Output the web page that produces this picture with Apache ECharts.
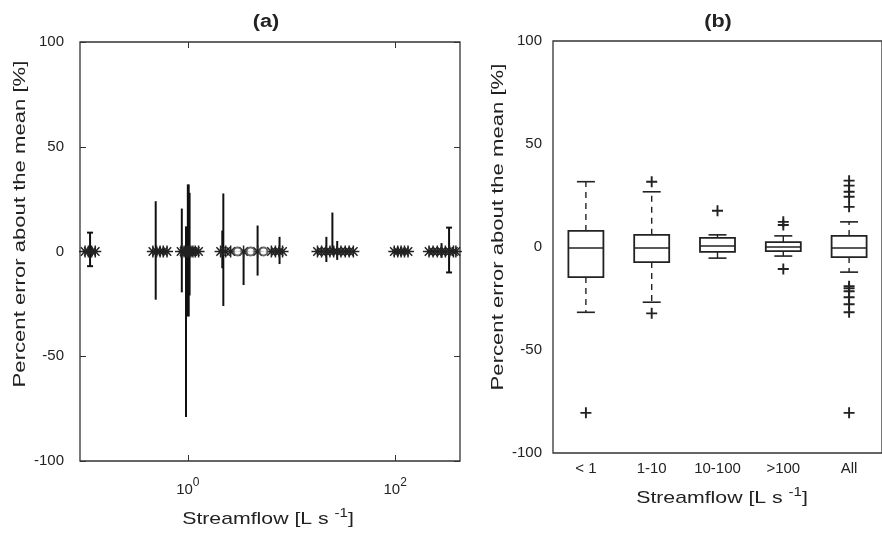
<!DOCTYPE html>
<html><head><meta charset="utf-8">
<script src="https://cdn.jsdelivr.net/npm/echarts@6/dist/echarts.min.js"></script>
<style>html,body{margin:0;padding:0;background:#fff}#c{width:882px;height:539px}</style>
</head><body><div id="c"></div>
<script>
// ---------- Panel (a): per-site mean (0 %) vs streamflow, with error ranges ----------
const starFlows = [0.102, 0.11, 0.118, 0.128,
  0.46, 0.5, 0.54, 0.58, 0.63,
  0.86, 0.92, 0.97, 1.0, 1.03, 1.07, 1.12, 1.18, 1.27,
  2.07, 2.32, 2.59, 3.45, 4.71,
  6.4, 7.0, 7.6, 8.2,
  17.8, 19.5, 21.5, 23.5, 25.5, 27.5, 30, 33, 36, 39.5,
  98, 106, 114, 123, 133,
  212, 232, 255, 280, 305, 335, 365, 385];
const starError = starFlows.map(() => 0);
const circleFlows = [3.02, 4.03, 5.37];
const circleError = [0, 0, 0];
const barFlows = [0.114, 0.49, 0.875, 0.96, 1.0, 1.02, 1.04, 2.15, 2.2, 3.45, 4.71, 7.67, 21.7, 24.8, 27.6, 280, 331];
const barLow   = [-7, -23, -19.5, -79, -31, -31, -21, -8, -26, -16, -11.5, -6, -5, 0, -4, -3, -10];
const barHigh  = [9, 24, 20.5, 12, 32, 32, 28, 10, 27.7, 0, 12.4, 7, 7, 18.6, 5, 4, 11.4];
const xTickExponents = [0, 2];          // tick labels 10^0 and 10^2
const xRangeFlows = [0.0912, 422];
const yTicks = [-100, -50, 0, 50, 100];

// ---------- Panel (b): box plots per streamflow class ----------
const classLabels = ['< 1', '1-10', '10-100', '>100', 'All'];
const whiskerLow  = [-31.7, -26.8, -5.4, -4.4, -12.2];
const quart1      = [-14.6, -7.3, -2.4, -2.0, -4.9];
const medianVal   = [-0.5, -0.5, 0.5, 0, -0.5];
const quart3      = [7.8, 5.9, 4.4, 2.4, 5.4];
const whiskerHigh = [31.7, 26.8, 5.9, 5.4, 12.2];
const outlierClass = ['< 1', '1-10', '1-10', '10-100', '>100', '>100', '>100',
  'All', 'All', 'All', 'All', 'All', 'All', 'All', 'All', 'All', 'All', 'All', 'All'];
const outlierValue = [-80.5, 31.7, -32.2, 17.6, 12.2, 10.7, -10.7,
  32.2, 29.8, 26.8, 24.4, 19.5, -19, -20, -21.5, -24.4, -27.8, -31.7, -80.5];

const FONT = '"Liberation Sans", Arial, sans-serif';
const INK = '#222';
const log10 = Math.log10;

const chart = echarts.init(document.getElementById('c'), null, {renderer: 'canvas'});

const starPath = 'path://M0,5L10,5M5,0L5,10M1.5,1.5L8.5,8.5M8.5,1.5L1.5,8.5';
const plusPath = 'path://M0,5L10,5M5,0L5,10';

const tickStyle = {inside: true, length: 6, lineStyle: {color: '#333', width: 1}};
const noLine = {show: false, onZero: false};

const option = {
  animation: false,
  backgroundColor: '#fff',
  grid: [
    {left: 80, top: 42, width: 380, height: 419, show: true, borderColor: '#333', borderWidth: 1.3, backgroundColor: '#fff'},
    {left: 553, top: 41, width: 338, height: 412, show: true, borderColor: '#333', borderWidth: 1.3, backgroundColor: '#fff'}
  ],
  xAxis: [
    {gridIndex: 0, type: 'value', min: log10(xRangeFlows[0]), max: log10(xRangeFlows[1]),
     axisLine: noLine, splitLine: {show: false},
     axisTick: Object.assign({customValues: xTickExponents}, tickStyle),
     axisLabel: {customValues: xTickExponents, margin: 16, color: INK,
       formatter: v => '{b|10}{s|' + v + '}',
       rich: {b: {fontSize: 15, fontFamily: FONT, color: INK, lineHeight: 20, verticalAlign: 'bottom'},
              s: {fontSize: 12, fontFamily: FONT, color: INK, lineHeight: 20, verticalAlign: 'top'}}}},
    {gridIndex: 0, type: 'value', position: 'top', min: log10(xRangeFlows[0]), max: log10(xRangeFlows[1]),
     axisLine: noLine, splitLine: {show: false}, axisLabel: {show: false},
     axisTick: Object.assign({customValues: xTickExponents}, tickStyle)},
    {gridIndex: 1, type: 'category', data: classLabels,
     axisLine: noLine, splitLine: {show: false},
     axisTick: Object.assign({alignWithLabel: true}, tickStyle),
     axisLabel: {margin: 8, fontSize: 15, fontFamily: FONT, color: INK}},
    {gridIndex: 1, type: 'category', data: classLabels, position: 'top',
     axisLine: noLine, splitLine: {show: false}, axisLabel: {show: false},
     axisTick: Object.assign({alignWithLabel: true}, tickStyle)}
  ],
  yAxis: [
    {gridIndex: 0, type: 'value', min: -100, max: 100, interval: 50,
     axisLine: noLine, splitLine: {show: false}, axisTick: tickStyle,
     axisLabel: {margin: 16, fontSize: 15, fontFamily: FONT, color: INK}},
    {gridIndex: 0, type: 'value', position: 'right', min: -100, max: 100, interval: 50,
     axisLine: noLine, splitLine: {show: false}, axisTick: tickStyle, axisLabel: {show: false}},
    {gridIndex: 1, type: 'value', min: -100, max: 100, interval: 50,
     axisLine: noLine, splitLine: {show: false}, axisTick: tickStyle,
     axisLabel: {margin: 11, fontSize: 15, fontFamily: FONT, color: INK}}
  ],
  series: [
    {
      type: 'custom', xAxisIndex: 0, yAxisIndex: 0, clip: true,
      data: barFlows.map((f, i) => [log10(f), barLow[i], barHigh[i]]),
      encode: {x: 0, y: [1, 2]},
      renderItem: function (params, api) {
        const x = api.value(0);
        const pl = api.coord([x, api.value(1)]);
        const ph = api.coord([x, api.value(2)]);
        const st = {stroke: '#111', lineWidth: 2};
        const ch = [{type: 'line', shape: {x1: pl[0], y1: pl[1], x2: ph[0], y2: ph[1]}, style: st}];
        const capped = params.dataIndex === 0 || params.dataIndex === barFlows.length - 1;
        if (capped) {
          ch.push({type: 'line', shape: {x1: pl[0] - 3, y1: pl[1], x2: pl[0] + 3, y2: pl[1]}, style: st});
          ch.push({type: 'line', shape: {x1: ph[0] - 3, y1: ph[1], x2: ph[0] + 3, y2: ph[1]}, style: st});
        }
        return {type: 'group', children: ch};
      }
    },
    {
      type: 'scatter', xAxisIndex: 0, yAxisIndex: 0,
      data: starFlows.map((f, i) => [log10(f), starError[i]]),
      symbol: starPath, symbolSize: 12,
      itemStyle: {color: 'transparent', borderColor: '#222', borderWidth: 1.5, opacity: 1}
    },
    {
      type: 'scatter', xAxisIndex: 0, yAxisIndex: 0,
      data: circleFlows.map((f, i) => [log10(f), circleError[i]]),
      symbol: 'emptyCircle', symbolSize: 8,
      itemStyle: {color: '#444', borderColor: '#444', borderWidth: 1.3}
    },
    {
      type: 'custom', xAxisIndex: 2, yAxisIndex: 2,
      data: classLabels.map((c, i) => [i, whiskerLow[i], quart1[i], medianVal[i], quart3[i], whiskerHigh[i]]),
      encode: {x: 0, y: [1, 2, 3, 4, 5]},
      renderItem: function (params, api) {
        const i = api.value(0);
        const cx = api.coord([i, 0])[0];
        const y = k => api.coord([i, api.value(k)])[1];
        const hw = 17.5, cw = 9;
        const yl = y(1), y1 = y(2), ym = y(3), y3 = y(4), yh = y(5);
        const st = {stroke: INK, lineWidth: 1.6, fill: null};
        const dash = {stroke: INK, lineWidth: 1.4, lineDash: [6, 5], fill: null};
        return {type: 'group', children: [
          {type: 'line', shape: {x1: cx, y1: y3, x2: cx, y2: yh}, style: dash},
          {type: 'line', shape: {x1: cx, y1: y1, x2: cx, y2: yl}, style: dash},
          {type: 'line', shape: {x1: cx - cw, y1: yh, x2: cx + cw, y2: yh}, style: st},
          {type: 'line', shape: {x1: cx - cw, y1: yl, x2: cx + cw, y2: yl}, style: st},
          {type: 'rect', shape: {x: cx - hw, y: y3, width: 2 * hw, height: y1 - y3}, style: {stroke: INK, lineWidth: 1.8, fill: null}},
          {type: 'line', shape: {x1: cx - hw, y1: ym, x2: cx + hw, y2: ym}, style: st}
        ]};
      }
    },
    {
      type: 'scatter', xAxisIndex: 2, yAxisIndex: 2,
      data: outlierClass.map((c, i) => [c, outlierValue[i]]),
      symbol: plusPath, symbolSize: 11,
      itemStyle: {color: 'transparent', borderColor: '#222', borderWidth: 1.9, opacity: 1}
    }
  ],
  graphic: [
    {type: 'text', x: 266, y: 22, style: {text: '(a)', font: 'bold 18px ' + FONT, fill: INK, textAlign: 'center', textVerticalAlign: 'middle'}, scaleX: 1.2},
    {type: 'text', x: 718, y: 22, style: {text: '(b)', font: 'bold 18px ' + FONT, fill: INK, textAlign: 'center', textVerticalAlign: 'middle'}, scaleX: 1.2},
    {type: 'text', x: 20, y: 224, rotation: Math.PI / 2, scaleX: 1.3,
     style: {text: 'Percent error about the mean [%]', font: '17px ' + FONT, fill: INK, textAlign: 'center', textVerticalAlign: 'middle'}},
    {type: 'text', x: 498, y: 227, rotation: Math.PI / 2, scaleX: 1.3,
     style: {text: 'Percent error about the mean [%]', font: '17px ' + FONT, fill: INK, textAlign: 'center', textVerticalAlign: 'middle'}},
    {type: 'text', x: 268, y: 518, scaleX: 1.25,
     style: {text: '{b|Streamflow [L s }{s|-1}{b|]}', fill: INK, textAlign: 'center', textVerticalAlign: 'middle',
       rich: {b: {fontSize: 17, fontFamily: FONT, fill: INK, lineHeight: 20, verticalAlign: 'bottom'},
              s: {fontSize: 12, fontFamily: FONT, fill: INK, lineHeight: 20, verticalAlign: 'top'}}}},
    {type: 'text', x: 722, y: 497, scaleX: 1.25,
     style: {text: '{b|Streamflow [L s }{s|-1}{b|]}', fill: INK, textAlign: 'center', textVerticalAlign: 'middle',
       rich: {b: {fontSize: 17, fontFamily: FONT, fill: INK, lineHeight: 20, verticalAlign: 'bottom'},
              s: {fontSize: 12, fontFamily: FONT, fill: INK, lineHeight: 20, verticalAlign: 'top'}}}}
  ]
};
chart.setOption(option);
</script>
</body></html>
